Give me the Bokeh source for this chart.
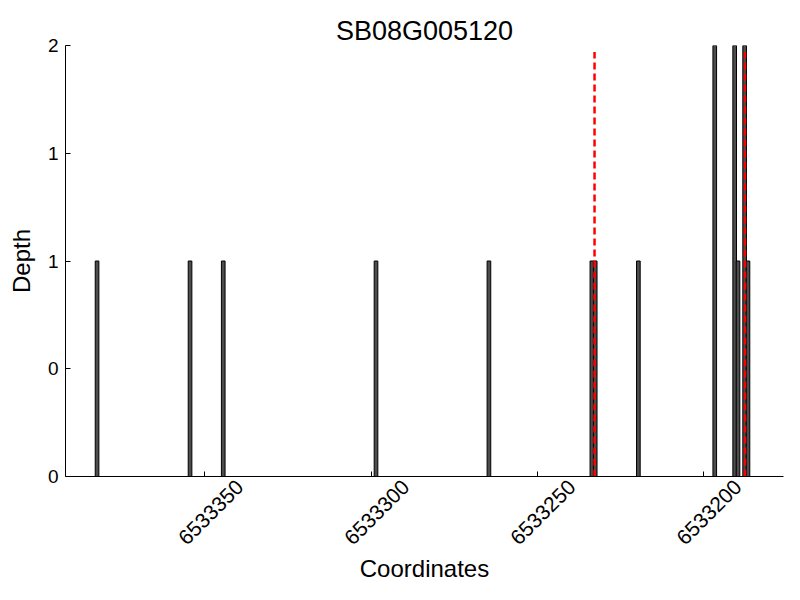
from bokeh.plotting import figure
from bokeh.models import Range1d, FixedTicker, CustomJSTickFormatter, LinearAxis
from bokeh.embed import file_html
from bokeh.resources import INLINE
import math

# Data
positions = [6533382.5, 6533354.5, 6533344.5, 6533298.5, 6533264.5,
             6533233.5, 6533232.5, 6533219.5, 6533196.5, 6533190.5,
             6533189.5, 6533187.5, 6533186.5]
depth = [1, 1, 1, 1, 1, 1, 1, 1, 2, 2, 1, 2, 1]
marker_positions = [6533232.7, 6533187.4]
marker_top = [1.97, 1.97]
x_ticks = [6533350, 6533300, 6533250, 6533200]
y_ticks = [0, 0.5, 1, 1.5, 2]

# shift (in x units) so the rotated labels appear centred under their ticks
LABEL_SHIFT = 10.5

FONT = "Liberation Sans"

p = figure(width=784, height=591, output_backend="svg", toolbar_location=None,
           x_range=Range1d(6533392, 6533175.8), y_range=Range1d(0, 2),
           title="SB08G005120",
           min_border_left=65, min_border_right=1, min_border_top=45,
           min_border_bottom=115)

p.title.text_font = FONT
p.title.text_font_size = "27px"
p.title.text_font_style = "normal"
p.title.align = "center"
p.title.text_color = "black"
p.title.standoff = 0
p.title.offset = 0

p.grid.visible = False
p.outline_line_color = None
p.background_fill_color = "white"

p.vbar(x=positions, top=depth, bottom=0, width=1.1,
       fill_color="#4d4d4d", line_color="black", line_width=1)

p.segment(x0=marker_positions, y0=[0, 0], x1=marker_positions, y1=marker_top,
          line_color="red", line_width=2.5, line_dash="7 4")

# inner x axis: line + inward ticks, no labels
xa = p.xaxis[0]
xa.ticker = FixedTicker(ticks=x_ticks)
xa.formatter = CustomJSTickFormatter(code="return '';")
xa.major_label_standoff = 0
xa.major_label_text_font_size = "19px"

# outer x axis: rotated labels + axis title
lab_axis = LinearAxis(
    ticker=FixedTicker(ticks=[t - LABEL_SHIFT for t in x_ticks]),
    formatter=CustomJSTickFormatter(args=dict(s=LABEL_SHIFT),
                                    code="return (tick + s).toFixed(0);"),
    axis_label="Coordinates",
    major_label_orientation=math.pi / 4,
    axis_line_color=None, major_tick_line_color=None, minor_tick_line_color=None,
    major_tick_in=0, major_tick_out=0, minor_tick_in=0, minor_tick_out=0,
    major_label_standoff=7, axis_label_standoff=1,
    major_label_text_font=FONT, major_label_text_font_size="21px",
    major_label_text_color="black",
    axis_label_text_font=FONT, axis_label_text_font_size="24px",
    axis_label_text_font_style="normal", axis_label_text_color="black")
p.add_layout(lab_axis, "below")

ya = p.yaxis[0]
ya.ticker = FixedTicker(ticks=y_ticks)
ya.formatter = CustomJSTickFormatter(code="return Math.floor(tick).toString();")
ya.axis_label = "Depth"

for ax in (xa, ya):
    ax.axis_label_text_font = FONT
    ax.axis_label_text_font_size = "24px"
    ax.axis_label_text_font_style = "normal"
    ax.axis_label_text_color = "black"
    ax.major_label_text_font = FONT
    ax.major_label_text_color = "black"
    ax.axis_line_color = "black"
    ax.axis_line_width = 1
    ax.major_tick_in = 5
    ax.major_tick_out = 0
    ax.minor_tick_in = 0
    ax.minor_tick_out = 0
    ax.major_tick_line_color = "black"

ya.major_label_text_font_size = "19px"
ya.major_label_standoff = 7
ya.axis_label_standoff = 10

open("out.html", "w").write(file_html(p, INLINE))
